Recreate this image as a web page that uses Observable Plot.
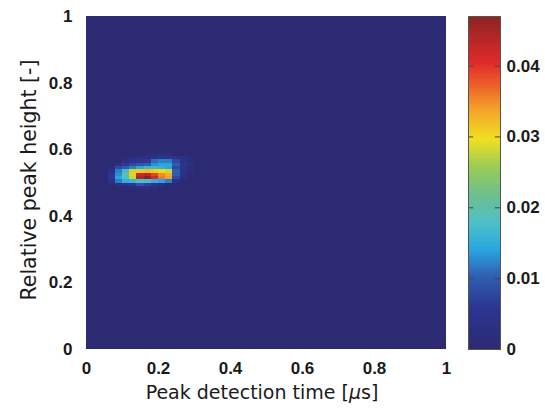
<!DOCTYPE html>
<html><head><meta charset="utf-8">
<script src="https://cdn.jsdelivr.net/npm/d3@7"></script>
<script src="https://cdn.jsdelivr.net/npm/@observablehq/plot@0.6"></script>
<style>
body{margin:0;background:#fff}
#wrap{position:relative;width:545px;height:409px;overflow:hidden}
#wrap svg{position:absolute;top:0}
.lbl{position:absolute;font-family:"DejaVu Sans";font-size:19px;line-height:19px;color:#1a1a1a;white-space:nowrap}
</style>
</head><body><div id="wrap"></div>
<script>
// Grid resolution of the 2-D histogram
const xStep = 0.02, yStep = 0.01;
const xTicks = [0, 0.2, 0.4, 0.6, 0.8, 1];
const yTicks = [0, 0.2, 0.4, 0.6, 0.8, 1];
const cbTicks = [0, 0.01, 0.02, 0.03, 0.04];
const vMax = 0.047;

// Non-zero cells, row by row (row lower edge, first column lower edge, values)
const rowY = [0.48, 0.49, 0.50, 0.51, 0.52, 0.53, 0.54, 0.55, 0.56, 0.57, 0.58];
const rowX0 = [0.12, 0.08, 0.06, 0.06, 0.06, 0.06, 0.06, 0.08, 0.10, 0.12, 0.16];
const rowValues = [
  [0.002, 0.003, 0.003, 0.002],
  [0.003, 0.005, 0.006, 0.009, 0.007, 0.005, 0.003],
  [0.004, 0.012, 0.015, 0.016, 0.018, 0.017, 0.015, 0.014, 0.012, 0.004],
  [0.006, 0.014, 0.018, 0.028, 0.044, 0.047, 0.041, 0.036, 0.034, 0.008, 0.003],
  [0.005, 0.013, 0.020, 0.031, 0.042, 0.043, 0.039, 0.035, 0.033, 0.010, 0.003],
  [0.003, 0.012, 0.017, 0.028, 0.031, 0.032, 0.031, 0.030, 0.028, 0.010, 0.004, 0.002],
  [0.002, 0.008, 0.010, 0.012, 0.014, 0.016, 0.016, 0.015, 0.014, 0.008, 0.004, 0.002],
  [0.004, 0.006, 0.008, 0.009, 0.010, 0.013, 0.014, 0.014, 0.010, 0.005, 0.003],
  [0.003, 0.004, 0.005, 0.006, 0.011, 0.012, 0.012, 0.008, 0.004, 0.002],
  [0.002, 0.003, 0.003, 0.004, 0.005, 0.005, 0.004, 0.003, 0.002],
  [0.002, 0.002, 0.003, 0.002]
];

// Jet-like colour map (as printed)
const colorStops = [0, 0.12, 0.22, 0.30, 0.38, 0.46, 0.55, 0.63, 0.72, 0.80, 0.86, 1];
const jetColors = ["#2c2a73", "#2c3590", "#2f5fb0", "#2aa7e0", "#4fc0c8", "#6cbf8e",
                   "#9ccc55", "#f0e020", "#f4a22a", "#ec5a28", "#e02a2a", "#8c2323"];

// build full grid table
const lookup = new Map();
rowY.forEach((y, r) => {
  rowValues[r].forEach((v, c) => {
    const i = Math.round(rowX0[r] / xStep) + c;
    const j = Math.round(y / yStep);
    lookup.set(i + "," + j, v);
  });
});
const nx = Math.round(1 / xStep), ny = Math.round(1 / yStep);
const grid = [];
for (let i = 0; i < nx; i++) for (let j = 0; j < ny; j++) {
  grid.push({x1: i * xStep, x2: (i + 1) * xStep, y1: j * yStep, y2: (j + 1) * yStep, v: lookup.get(i + "," + j) ?? 0});
}

const color = {type: "linear", domain: colorStops.map(t => t * vMax), range: jetColors, interpolate: "rgb"};
const style = {fontFamily: "Liberation Sans", fontSize: "17px", fontWeight: "bold", color: "#1a1a1a", background: "transparent"};

const main = Plot.plot({
  width: 545, height: 409,
  marginLeft: 86, marginRight: 99, marginTop: 16, marginBottom: 60,
  style,
  x: {domain: [0, 1]},
  y: {domain: [0, 1]},
  color,
  marks: [
    Plot.rect(grid, {x1: "x1", x2: "x2", y1: "y1", y2: "y2", fill: "v", shapeRendering: "crispEdges"}),
    Plot.axisX({ticks: xTicks, tickSize: 0, tickPadding: 12, tickFormat: d => String(d), label: null}),
    Plot.axisY({ticks: yTicks, tickSize: 0, tickPadding: 14, tickFormat: d => String(d), label: null})
  ]
});

const levels = d3.range(0, 200);
const cb = Plot.plot({
  width: 77, height: 409,
  marginLeft: 0, marginRight: 45, marginTop: 16, marginBottom: 60,
  style,
  x: {domain: [0, 1], axis: null},
  y: {domain: [0, vMax]},
  color,
  marks: [
    Plot.rect(levels, {x1: () => 0, x2: () => 1, y1: i => i / 200 * vMax, y2: i => (i + 1) / 200 * vMax, fill: i => (i + 0.5) / 200 * vMax, shapeRendering: "crispEdges"}),
    Plot.ruleY(cbTicks, {x1: () => 0.84, x2: () => 1, stroke: "#444"}),
    Plot.ruleY(cbTicks, {x1: () => 0, x2: () => 0.16, stroke: "#444"}),
    Plot.frame({stroke: "#555"}),
    Plot.axisY({anchor: "right", ticks: cbTicks, tickSize: 0, tickPadding: 6, tickFormat: d => d === 0 ? "0" : d.toFixed(2), label: null})
  ]
});

const wrap = document.getElementById("wrap");
main.style.left = "0px";
cb.style.left = "468px";
wrap.appendChild(main);
wrap.appendChild(cb);

const xl = document.createElement("div");
xl.className = "lbl";
xl.innerHTML = "Peak detection time [<i>μ</i>s]";
xl.style.left = "262px"; xl.style.top = "383px"; xl.style.transform = "translateX(-50%)";
wrap.appendChild(xl);

const yl = document.createElement("div");
yl.className = "lbl";
yl.textContent = "Relative peak height [-]";
yl.style.fontSize = "20.5px"; yl.style.lineHeight = "20px";
yl.style.left = "29px"; yl.style.top = "180px"; yl.style.transform = "translate(-50%,-50%) rotate(-90deg)";
wrap.appendChild(yl);
</script>
</body></html>
